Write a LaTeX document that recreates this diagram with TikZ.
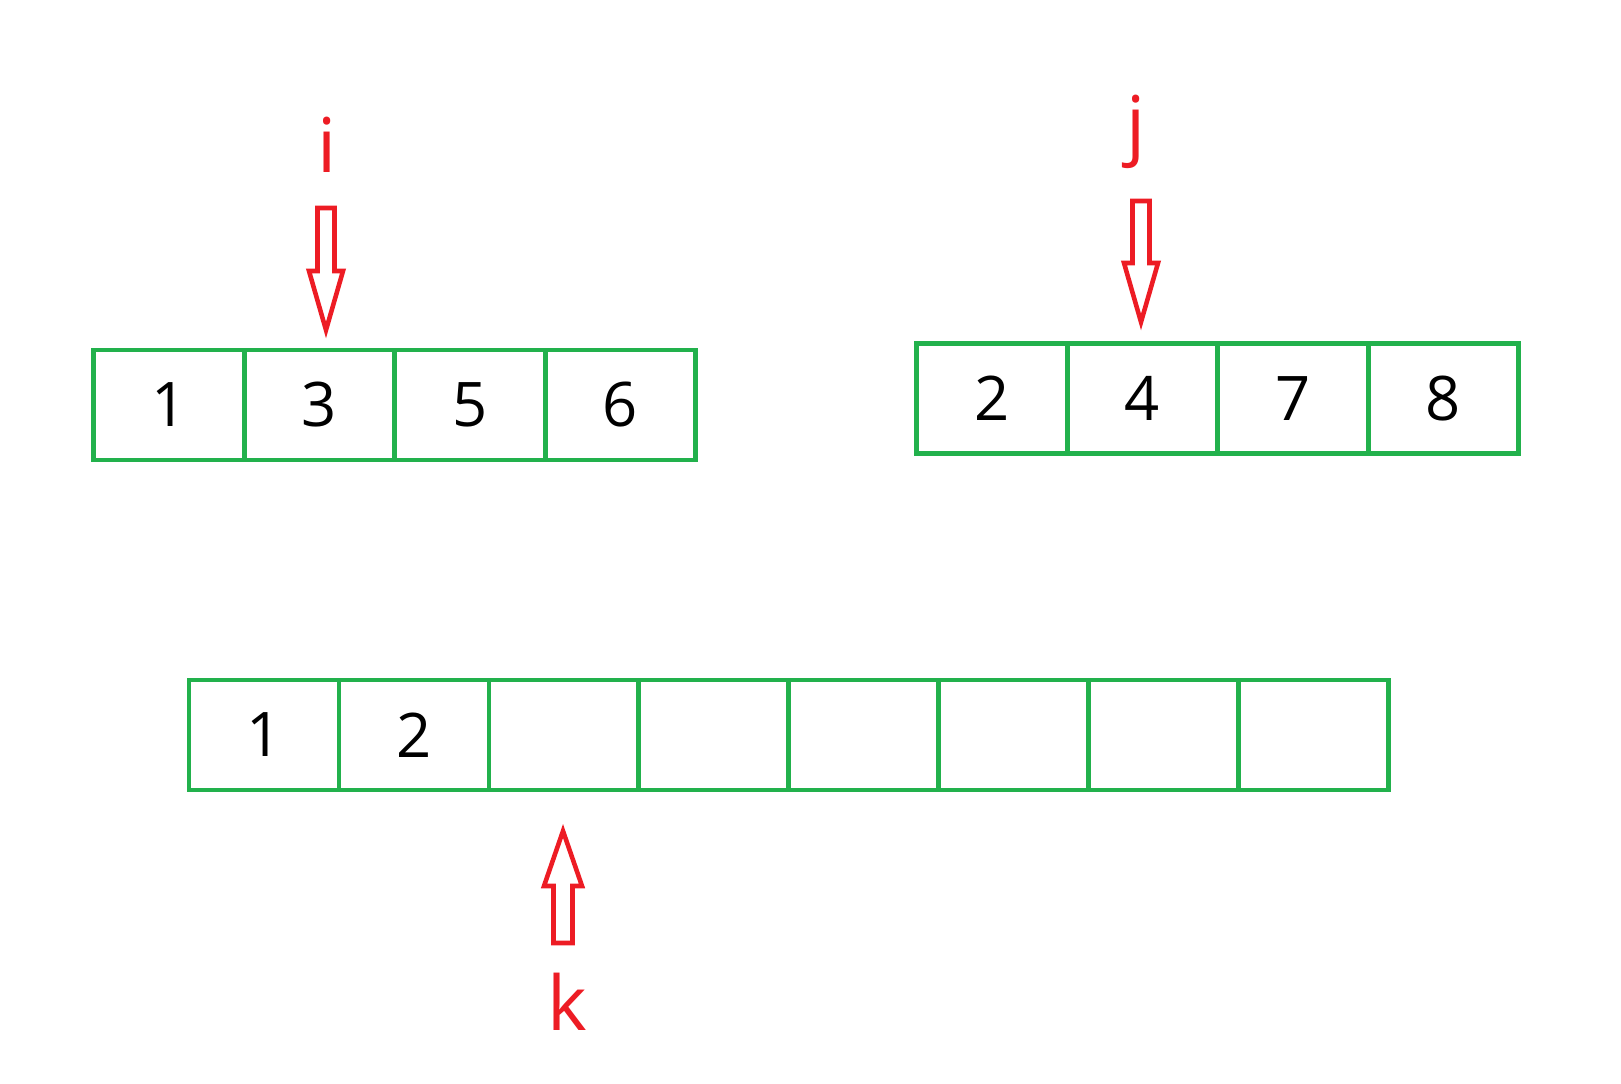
\documentclass[tikz,border=0pt]{standalone}
\usepackage{fontspec}
\setmainfont{Open Sans}
\usetikzlibrary{positioning}

\definecolor{cellgreen}{RGB}{34,177,76}
\definecolor{ptrred}{RGB}{237,28,36}

\tikzset{
  cell/.style={rectangle, draw=cellgreen, line width=2.8pt, outer sep=0pt,
               minimum width=3.01cm, minimum height=2.2cm, inner sep=0pt,
               font=\fontsize{35}{40}\selectfont},
  ptrlabel/.style={text=ptrred, anchor=base, inner sep=0pt,
                   font=\fontsize{43}{48}\selectfont},
  blockarr/.style={draw=ptrred, line width=2.6pt, line join=miter}
}

\begin{document}
\begin{tikzpicture}[x=0.02cm, y=-0.02cm]
  \useasboundingbox (0,0) rectangle (1621,1083);

  % first sorted array
  \node[cell] (a1) at (169,405) {1};
  \node[cell, right=0pt of a1] (a2) {3};
  \node[cell, right=0pt of a2] (a3) {5};
  \node[cell, right=0pt of a3] (a4) {6};

  % second sorted array
  \node[cell] (b1) at (992,398.5) {2};
  \node[cell, right=0pt of b1] (b2) {4};
  \node[cell, right=0pt of b2] (b3) {7};
  \node[cell, right=0pt of b3] (b4) {8};

  % merged result
  \node[cell, minimum width=3cm] (c1) at (264,735) {1};
  \node[cell, minimum width=3cm, right=0pt of c1] (c2) {2};
  \node[cell, minimum width=3cm, right=0pt of c2] (c3) {};
  \node[cell, minimum width=3cm, right=0pt of c3] (c4) {};
  \node[cell, minimum width=3cm, right=0pt of c4] (c5) {};
  \node[cell, minimum width=3cm, right=0pt of c5] (c6) {};
  \node[cell, minimum width=3cm, right=0pt of c6] (c7) {};
  \node[cell, minimum width=3cm, right=0pt of c7] (c8) {};

  % pointers
  \node[ptrlabel] (ilab) at (327,172) {i};
  \node[ptrlabel] (jlab) at (1136,150) {j};
  \node[ptrlabel] (klab) at (567,1030) {k};

  \coordinate (itip) at (326,330);
  \coordinate (jtip) at (1141,322);
  \coordinate (ktip) at (563,831);

  \draw[blockarr] (itip) -- ++(17,-59) -- ++(-8.5,0) -- ++(0,-63)
        -- ++(-17,0) -- ++(0,63) -- ++(-8.5,0) -- cycle;
  \draw[blockarr] (jtip) -- ++(17,-59) -- ++(-8.5,0) -- ++(0,-62)
        -- ++(-17,0) -- ++(0,62) -- ++(-8.5,0) -- cycle;
  \draw[blockarr] (ktip) -- ++(19,55) -- ++(-9.5,0) -- ++(0,57)
        -- ++(-19,0) -- ++(0,-57) -- ++(-9.5,0) -- cycle;
\end{tikzpicture}
\end{document}
